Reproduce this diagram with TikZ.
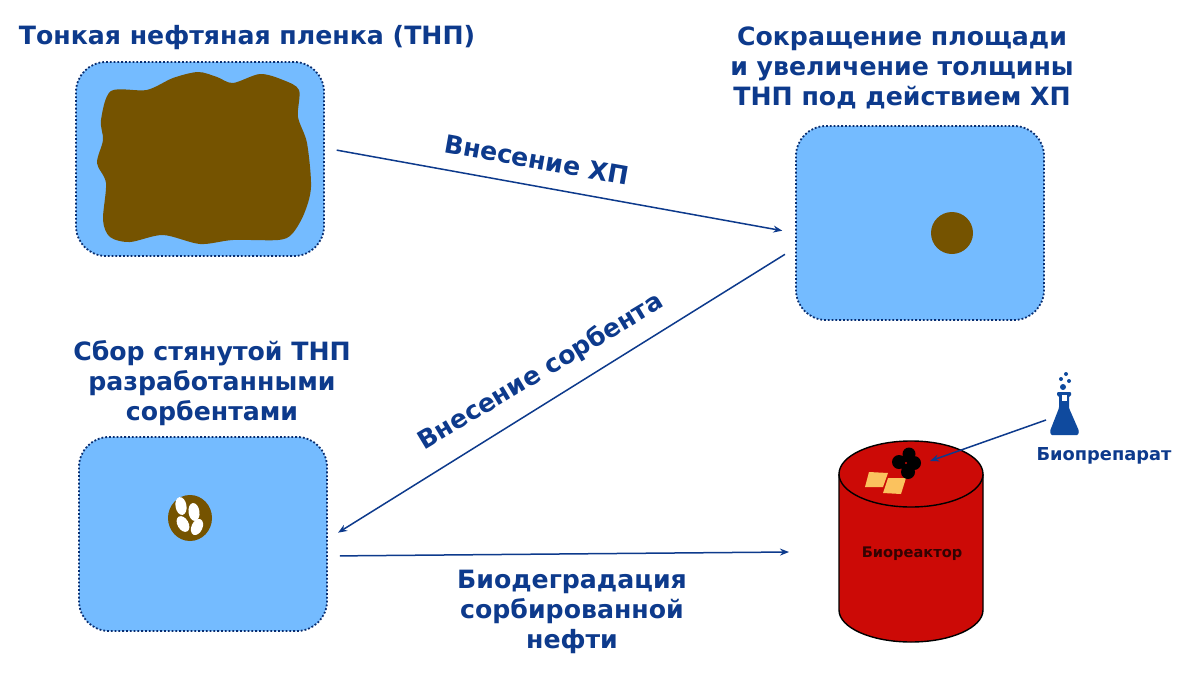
\documentclass[tikz,border=0pt]{standalone}
\usepackage{fontspec}
\setmainfont{DejaVu Sans}
\usetikzlibrary{arrows.meta,shapes.geometric}

\definecolor{water}{HTML}{74BBFF}
\definecolor{oil}{HTML}{755300}
\definecolor{navy}{HTML}{0D3A8C}
\definecolor{tank}{HTML}{CC0A06}
\definecolor{patch}{HTML}{FBC25E}
\definecolor{glass}{HTML}{0F4A9E}

\begin{document}
\begin{tikzpicture}[x=1pt,y=-1pt]
  \tikzstyle{pool} = [draw=navy!80!black,fill=water,rectangle,line width=1.8pt,dotted,rounded corners=30pt,minimum width=248pt,minimum height=194pt]
  \tikzstyle{arrow} = [navy,line width=1.5pt,-{Stealth[length=9pt,width=7pt]}]
  \tikzstyle{lbl} = [navy,font=\fontsize{25.2}{30}\selectfont\bfseries,align=center,inner sep=0pt]
  \useasboundingbox (0,0) rectangle (1200,675);
  \fill[white] (0,0) rectangle (1200,675);

  \node (filmbox) [pool] at (200,159) {};
  \node (shrinkbox) [pool] at (920,223) {};
  \node (sorbbox) [pool] at (203,534) {};

  % oil film
  \fill[oil] plot[smooth cycle,tension=0.5] coordinates {(111,91) (146.7,90) (173,78) (198,72) (217,77) (233,83) (260,74) (283,80) (299,90) (298,117) (307,143) (311,187) (304,214) (292,234) (278,240) (233,240) (200,244) (163,235) (130,242) (110,237) (103,220) (106,183) (97,163) (103,140) (101,120)};
  \fill[oil] (952,233) circle (21);
  \fill[oil] (190,518) ellipse (22 and 23);
  \fill[white,rotate around={10:(181,506)}] (181,506) ellipse (5.5 and 9);
  \fill[white,rotate around={8:(194,512)}] (194,512) ellipse (5.5 and 9);
  \fill[white,rotate around={30:(183,524)}] (183,524) ellipse (5.5 and 8.5);
  \fill[white,rotate around={-25:(197,527)}] (197,527) ellipse (5.5 and 8.5);

  % tank
  \draw[fill=tank,line width=1.4pt] (839,474) -- (839,610) arc (180:0:72 and 32) -- (983,474);
  \node (tanktop) [draw,fill=tank,ellipse,line width=1.4pt,minimum width=144pt,minimum height=66pt,inner sep=0pt] at (911,474) {};
  \node (tanklbl) [font=\fontsize{14.6}{16}\selectfont\bfseries,text=black!75!tank,inner sep=0pt] at (912,554) {Биореактор};
  \fill[patch] (869,472) -- (888,473) -- (883,487) -- (865,487) -- cycle;
  \fill[patch] (888,478) -- (906,478) -- (901,494) -- (883,493) -- cycle;
  \fill[black] (909,454) circle (6.5) (899,462) circle (7) (914,463) circle (7) (908,472) circle (7) (906,462) circle (5);
  \fill[tank] (906,463) circle (1.2);

  % flask
  \fill[glass,rounded corners=1pt] (1057,392) -- (1071,392) -- (1071,396) -- (1069,396) -- (1069,408) -- (1079,431) -- (1078,435) -- (1051,435) -- (1050,431) -- (1059,408) -- (1059,396) -- (1057,396) -- cycle;
  \fill[white] (1062,395) rectangle (1067,401);
  \fill[glass] (1063,387) circle (3) (1061,379) circle (2) (1069,381) circle (2) (1066,374) circle (2);
  \coordinate (flask) at (1046,420);
  \coordinate (drop) at (930,461);
  \node (biolbl) [lbl,font=\fontsize{17.8}{20}\selectfont\bfseries] at (1104,456) {Биопрепарат};

  \draw [arrow,shorten <=12pt,shorten >=13pt] ([yshift=11pt]filmbox.east) -- ([yshift=-10pt]shrinkbox.west);
  \draw [arrow,shorten <=12pt,shorten >=12pt] ([yshift=-25pt]shrinkbox.west) -- ([yshift=-5pt]sorbbox.east);
  \draw [arrow,shorten <=12pt] ([yshift=-22pt]sorbbox.east) -- (789,552);
  \draw [arrow] (flask) -- (drop);

  \node (filmlbl) [lbl] at (247,38) {Тонкая нефтяная пленка (ТНП)};
  \node (shrinklbl) [lbl] at (902,68) {Сокращение площади\\и увеличение толщины\\ТНП под действием ХП};
  \node (sorblbl) [lbl] at (212,383) {Сбор стянутой ТНП\\разработанными\\сорбентами};
  \node (addchem) [lbl,rotate=-10] at (537,160) {Внесение ХП};
  \node (addsorb) [lbl,rotate=31] at (541,372) {Внесение сорбента};
  \node (degrade) [lbl] at (572,612) {Биодеградация\\сорбированной\\нефти};
\end{tikzpicture}
\end{document}
